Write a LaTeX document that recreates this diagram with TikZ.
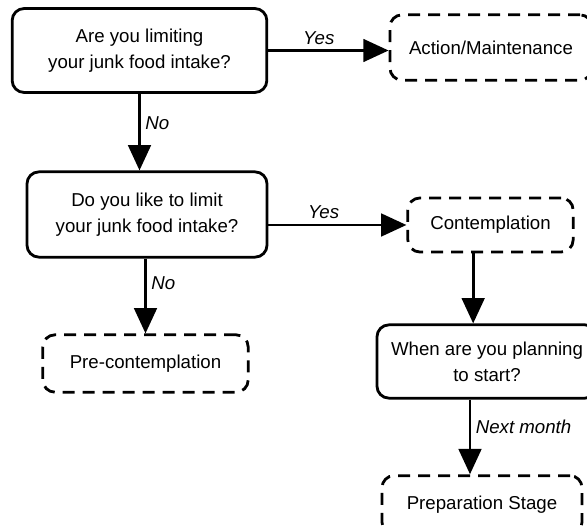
\documentclass[tikz,border=0pt]{standalone}
\usepackage{fontspec}
\setmainfont{Liberation Sans}
\usetikzlibrary{arrows.meta,positioning}

\begin{document}
\begin{tikzpicture}[
    x=0.75pt, y=-0.75pt,
    line width=2.1pt,
    >={Triangle[length=19pt,width=17pt]},
    question/.style = {
      draw,
      rounded corners=9pt,
      align=center,
      font=\fontsize{14}{19.5}\selectfont
    },
    stage/.style = {
      draw,
      dash pattern=on 9pt off 6pt,
      rounded corners=9pt,
      align=center,
      font=\fontsize{14}{19.5}\selectfont
    },
    answer/.style = {
      font=\itshape\fontsize{14}{16}\selectfont
    }
  ]
  \useasboundingbox (0,0) rectangle (587,527);

  % questions
  \node[question, minimum width=191pt, minimum height=63pt] (q1) at (139.5,50.5)
    {Are you limiting\\your junk food intake?};
  \node[question, minimum width=180pt, minimum height=64pt] (q2) at (147,214.5)
    {Do you like to limit\\your junk food intake?};
  \node[question, minimum width=165pt, minimum height=55pt] (q3) at (487,361.5)
    {When are you planning\\to start?};

  % stages
  \node[stage, minimum width=151.5pt, minimum height=49pt] (act) at (491,47.5) {Action/Maintenance};
  \node[stage, minimum width=154pt, minimum height=43pt] (pre) at (145.5,363.5) {Pre-contemplation};
  \node[stage, minimum width=124pt, minimum height=40.5pt] (cont) at (490.5,225) {Contemplation};
  \node[stage, minimum width=150pt, minimum height=44pt] (prep) at (482,505) {Preparation Stage};

  % connectors
  \draw[->] (q1.east) -- node[answer, above, pos=0.42] {Yes} (q1.east -| act.west);
  \draw[->] (q1.south) -- node[answer, right, pos=0.38] {No} (q1.south |- q2.north);
  \draw[->] (cont.west -| q2.east) -- node[answer, above, pos=0.4] {Yes} (cont.west);
  \draw[->] (pre.north |- q2.south) -- node[answer, right, pos=0.33] {No} (pre.north);
  \draw[->] ([xshift=-13pt]cont.south) -- ([xshift=-13pt]cont.south |- q3.north);
  \draw[->] ([xshift=-9pt]prep.north |- q3.south) -- node[answer, right, pos=0.36] {Next month} ([xshift=-9pt]prep.north);
\end{tikzpicture}
\end{document}
